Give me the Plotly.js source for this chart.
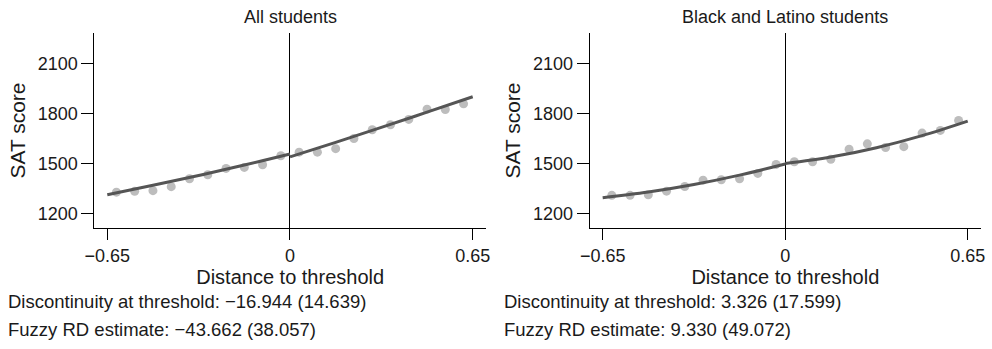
<!DOCTYPE html>
<html><head><meta charset="utf-8">
<script src="https://cdn.plot.ly/plotly-3.0.1.min.js"></script>
<style>html,body{margin:0;padding:0;background:#fff}#chart{width:992px;height:349px}</style>
</head><body><div id="chart"></div>
<script>
// Bin centers (distance to threshold)
const binX = [-0.6175,-0.5525,-0.4875,-0.4225,-0.3575,-0.2925,-0.2275,-0.1625,-0.0975,-0.0325,
              0.0325,0.0975,0.1625,0.2275,0.2925,0.3575,0.4225,0.4875,0.5525,0.6175];
// Binned mean SAT scores
const allY = [1330,1335,1339,1363,1410,1434,1472,1478,1494,1548,1569,1569,1590,1651,1703,1733,1765,1826,1824,1858];
const blY  = [1311,1311,1315,1336,1364,1402,1404,1410,1442,1496,1512,1512,1527,1587,1619,1597,1602,1683,1699,1759];
// Fitted curves
const fitXL = [-0.65,-0.4875,-0.325,-0.1625,0];
const fitXR = [0,0.1625,0.325,0.4875,0.65];
const allFitL = [1315,1371,1430,1492,1558];
const allFitR = [1541,1628,1717,1808,1900];
const blFitL  = [1297,1331,1376,1432,1498];
const blFitR  = [1501,1540,1596,1668,1755];
// Labels
const xTickVals = [-0.65,0,0.65];
const xTickText = ['\u22120.65','0','0.65'];
const yTickVals = [1200,1500,1800,2100];
const panelTitles = ['All students','Black and Latino students'];
const noteLines = [
  ['Discontinuity at threshold: \u221216.944 (14.639)','Fuzzy RD estimate: \u221243.662 (38.057)'],
  ['Discontinuity at threshold: 3.326 (17.599)','Fuzzy RD estimate: 9.330 (49.072)']
];

const FONT = 'Liberation Sans, Arial, Helvetica, sans-serif';
const TXT = '#1a1a1a';
const markerStyle = {color:'#bdbdbd', size:9};
const lineStyle = {color:'#555555', width:3, shape:'spline'};

const traces = [];
[[allY, allFitL, allFitR, 'x', 'y'], [blY, blFitL, blFitR, 'x2', 'y2']].forEach(([ys, fl, fr, xa, ya]) => {
  traces.push({x: binX, y: ys, type:'scatter', mode:'markers', marker: markerStyle, xaxis: xa, yaxis: ya, hoverinfo:'skip'});
  traces.push({x: fitXL, y: fl, type:'scatter', mode:'lines', line: lineStyle, xaxis: xa, yaxis: ya, hoverinfo:'skip'});
  traces.push({x: fitXR, y: fr, type:'scatter', mode:'lines', line: lineStyle, xaxis: xa, yaxis: ya, hoverinfo:'skip'});
});

function xaxisDef(domain, anchor) {
  return {
    domain: domain, anchor: anchor, range: [-0.6962, 0.6973],
    tickvals: xTickVals, ticktext: xTickText, ticks: 'outside', ticklen: 11, tickwidth: 1, tickcolor: '#000',
    showline: true, linecolor: '#000', linewidth: 1, showgrid: false,
    zeroline: true, zerolinecolor: '#000', zerolinewidth: 1,
    tickfont: {family: FONT, size: 18, color: TXT},
    title: {text: 'Distance to threshold', font: {family: FONT, size: 20, color: TXT}, standoff: 4},
    fixedrange: true
  };
}
function yaxisDef(anchor) {
  return {
    domain: [0.3467, 0.9054], anchor: anchor, range: [1116, 2281],
    tickvals: yTickVals, ticks: 'outside', ticklen: 12, tickwidth: 1, tickcolor: '#000',
    showline: true, linecolor: '#000', linewidth: 1, showgrid: false, zeroline: false,
    tickfont: {family: FONT, size: 18, color: TXT},
    title: {text: 'SAT score', font: {family: FONT, size: 21, color: TXT}, standoff: 6},
    fixedrange: true
  };
}

const annotations = [];
const centers = [(94.3+486)/2/992, (589.7+981)/2/992];
panelTitles.forEach((t, i) => {
  annotations.push({text: t, xref:'paper', yref:'paper', x: centers[i], y: 1 - 16.5/349,
    xanchor:'center', yanchor:'middle', showarrow:false, font:{family: FONT, size: 18, color: TXT}});
});
const noteX = [7.3/992, 503.3/992];
noteLines.forEach((lines, i) => {
  lines.forEach((t, j) => {
    annotations.push({text: t, xref:'paper', yref:'paper', x: noteX[i], y: 1 - (301 + 28*j)/349,
      xanchor:'left', yanchor:'middle', showarrow:false, borderpad:0,
      font:{family: FONT, size: 18.5, color: TXT}});
  });
});

const layout = {
  width: 992, height: 349,
  margin: {l:0, r:0, t:0, b:0},
  paper_bgcolor:'#fff', plot_bgcolor:'#fff',
  showlegend: false,
  font: {family: FONT, color: TXT},
  xaxis: xaxisDef([0.09506, 0.48992], 'y'),
  yaxis: yaxisDef('x'),
  xaxis2: xaxisDef([0.59446, 0.98891], 'y2'),
  yaxis2: yaxisDef('x2'),
  annotations: annotations
};
Plotly.newPlot('chart', traces, layout, {staticPlot: true, displayModeBar: false});
</script></body></html>
